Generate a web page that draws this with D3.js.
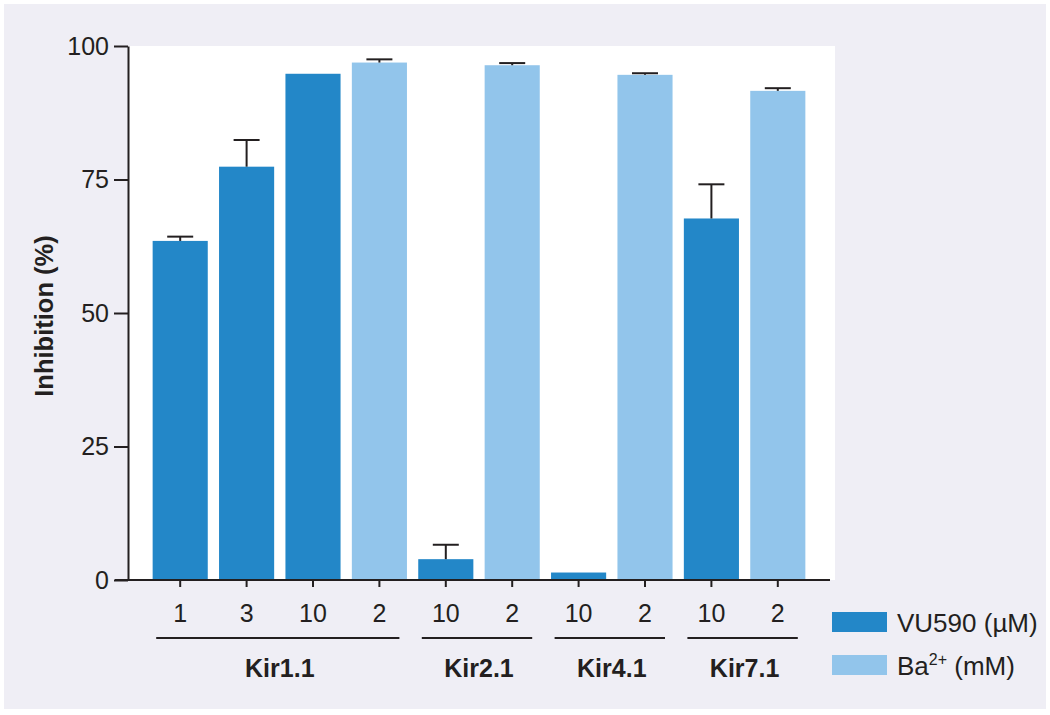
<!DOCTYPE html>
<html>
<head>
<meta charset="utf-8">
<script src="https://cdn.jsdelivr.net/npm/d3@7"></script>
<style>
  html, body { margin: 0; padding: 0; background: #ffffff; }
  svg { display: block; font-family: "Liberation Sans", Arial, Helvetica, sans-serif; }
</style>
</head>
<body>
<svg id="chart" width="1050" height="715"></svg>
<script>
// ---- data ----
const channels   = ["Kir1.1","Kir1.1","Kir1.1","Kir1.1","Kir2.1","Kir2.1","Kir4.1","Kir4.1","Kir7.1","Kir7.1"];
const doses      = ["1","3","10","2","10","2","10","2","10","2"];
const treatments = ["VU590","VU590","VU590","Ba","VU590","Ba","VU590","Ba","VU590","Ba"];
const inhibition = [63.5, 77.4, 94.8, 96.9, 3.9, 96.4, 1.4, 94.6, 67.7, 91.6];
const errorUpper = [0.8, 5.0, 0, 0.6, 2.7, 0.4, 0, 0.3, 6.4, 0.5];
const groups     = ["Kir1.1","Kir2.1","Kir4.1","Kir7.1"];
const yTicks     = [0, 25, 50, 75, 100];
const legendKeys = ["VU590","Ba"];

// ---- styles ----
const colors = { VU590: "#2387c8", Ba: "#92c5eb" };
const ink = "#231f20";

const svg = d3.select("#chart");

// background panel
svg.append("rect").attr("x", 4).attr("y", 4).attr("width", 1042).attr("height", 705).attr("fill", "#efeef5");

const plot = { left: 128, right: 835, top: 46, bottom: 580 };
svg.append("rect").attr("x", plot.left).attr("y", plot.top)
  .attr("width", plot.right - plot.left).attr("height", plot.bottom - plot.top).attr("fill", "#ffffff");

const keys = doses.map((d, i) => channels[i] + "|" + i);
const x = d3.scaleBand().domain(keys).range([147, 811]).paddingInner(0.17).paddingOuter(0.085);
const y = d3.scaleLinear().domain([0, 100]).range([plot.bottom, plot.top]);

// bars
svg.append("g").selectAll("rect").data(keys).join("rect")
  .attr("x", k => x(k))
  .attr("width", x.bandwidth())
  .attr("y", (k, i) => y(inhibition[i]))
  .attr("height", (k, i) => y(0) - y(inhibition[i]))
  .attr("fill", (k, i) => colors[treatments[i]]);

// error bars (upper only)
const eb = svg.append("g").attr("stroke", ink).attr("stroke-width", 2);
keys.forEach((k, i) => {
  if (errorUpper[i] <= 0) return;
  const cx = x(k) + x.bandwidth() / 2;
  eb.append("line").attr("x1", cx).attr("x2", cx).attr("y1", y(inhibition[i])).attr("y2", y(inhibition[i] + errorUpper[i]));
  eb.append("line").attr("x1", cx - 13).attr("x2", cx + 13).attr("y1", y(inhibition[i] + errorUpper[i])).attr("y2", y(inhibition[i] + errorUpper[i]));
});

// y axis
const yAxis = svg.append("g").attr("transform", `translate(${plot.left},0)`)
  .call(d3.axisLeft(y).tickValues(yTicks).tickSize(14).tickSizeOuter(0).tickPadding(5));
yAxis.selectAll("path, line").attr("stroke", ink).attr("stroke-width", 2);
yAxis.selectAll("text").attr("fill", ink).style("font-size", "25px");

// x axis
const xAxis = svg.append("g").attr("transform", `translate(0,${plot.bottom})`)
  .call(d3.axisBottom(x).tickSize(7).tickPadding(17).tickFormat((k, i) => doses[i]));
xAxis.select(".domain").remove();
xAxis.selectAll("line").attr("stroke", ink).attr("stroke-width", 2);
xAxis.selectAll("text").attr("fill", ink).style("font-size", "25px");
svg.append("line").attr("x1", 115).attr("x2", 830).attr("y1", plot.bottom).attr("y2", plot.bottom)
  .attr("stroke", ink).attr("stroke-width", 2);

// group brackets and labels
groups.forEach(g => {
  const ks = keys.filter((k, i) => channels[i] === g);
  const c0 = x(ks[0]) + x.bandwidth() / 2;
  const c1 = x(ks[ks.length - 1]) + x.bandwidth() / 2;
  svg.append("line").attr("x1", c0 - 24).attr("x2", c1 + 20).attr("y1", 638).attr("y2", 638)
    .attr("stroke", ink).attr("stroke-width", 2);
  svg.append("text").attr("x", (c0 + c1) / 2).attr("y", 677).attr("text-anchor", "middle")
    .attr("fill", ink).style("font-size", "25px").style("font-weight", "bold")
    .text(g);
});

// y title
svg.append("text").attr("transform", "translate(53,316) rotate(-90)").attr("text-anchor", "middle")
  .attr("fill", ink).style("font-size", "25.5px").style("font-weight", "bold")
  .text("Inhibition (%)");

// legend
const lg = svg.append("g");
legendKeys.forEach((k, i) => {
  const yy = 612 + i * 43;
  lg.append("rect").attr("x", 832).attr("y", yy).attr("width", 55).attr("height", 20).attr("fill", colors[k]);
  const t = lg.append("text").attr("x", 897).attr("y", yy + 20).attr("fill", ink).style("font-size", "26px");
  if (k === "VU590") {
    t.text("VU590 (µM)");
  } else {
    t.append("tspan").text("Ba");
    t.append("tspan").attr("dy", -10).style("font-size", "16px").text("2+");
    t.append("tspan").attr("dy", 10).text(" (mM)");
  }
});
</script>
</body>
</html>
